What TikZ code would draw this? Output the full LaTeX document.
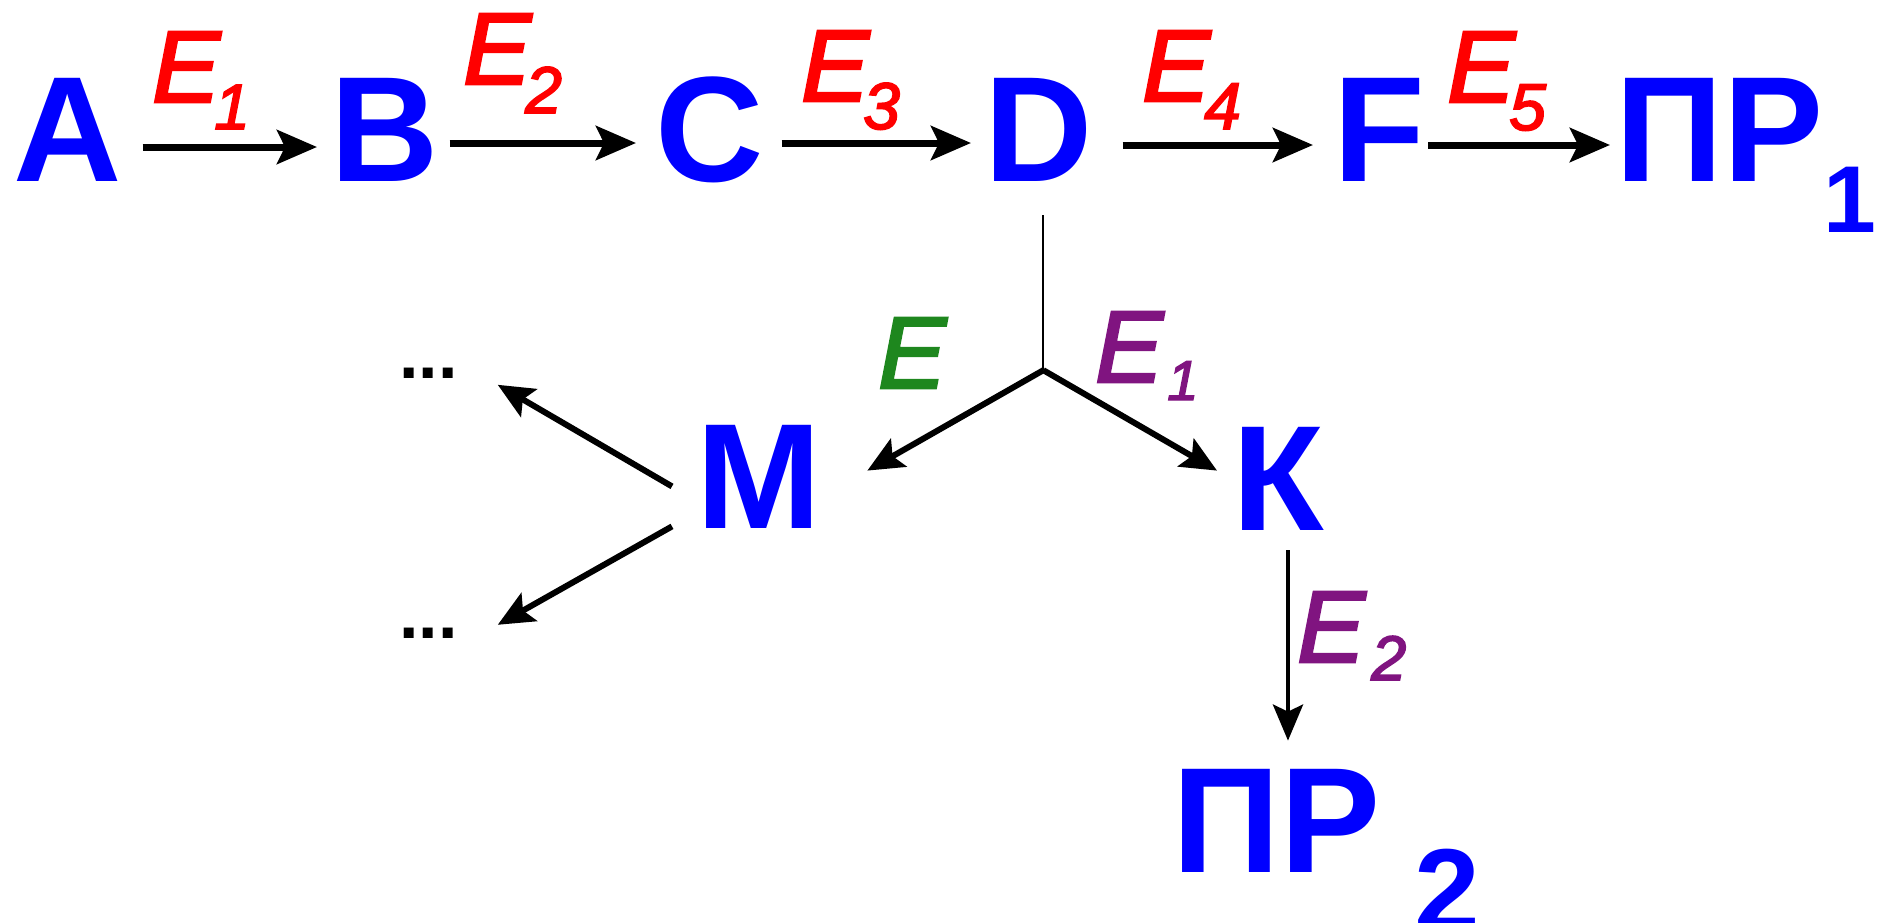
\documentclass[tikz,border=0pt]{standalone}
\usepackage{fontspec}
\setmainfont{Liberation Sans}
\newfontfamily\efont{Liberation Sans Italic}[FakeBold=2.6]
\usetikzlibrary{arrows.meta}
\definecolor{nblue}{RGB}{0,0,255}
\definecolor{ered}{RGB}{255,0,0}
\definecolor{egreen}{RGB}{30,135,30}
\definecolor{epurple}{RGB}{128,20,128}
\begin{document}
\begin{tikzpicture}[x=1pt,y=-1pt,
  big/.style={inner sep=0pt, anchor=base west, text=nblue, font=\bfseries\fontsize{150}{150}\selectfont},
  lbl/.style={inner sep=0pt, anchor=base west, font=\efont\fontsize{102}{102}\selectfont},
  dotsn/.style={inner sep=0pt, anchor=base west, font=\bfseries\fontsize{70}{70}\selectfont},
  arr/.style={line width=7pt, -{Stealth[length=40pt,width=34pt,inset=8pt]}},
  arrb/.style={line width=6pt, -{Stealth[length=36pt,width=32pt,inset=7pt]}},
  arrk/.style={line width=4.5pt, -{Stealth[length=36pt,width=30pt,inset=7pt]}},
  stem/.style={line width=2.2pt}]
\useasboundingbox (0,0) rectangle (1895,922);
% main row
\node[big] (A) at (13,181) {A};
\node[big] (B) at (330,181) {B};
\node[big] (C) at (655,181) {C};
\node[big] (D) at (984,181) {D};
\node[big] (F) at (1333,181) {F};
\node[big] (P1) at (1615,181) {ПР\raisebox{-51pt}{\fontsize{95}{95}\selectfont 1}};
% lower part
\node[big] (M) at (696,528) {М};
\node[big] (K) at (1232,530) {К};
\node[big] (P2) at (1172,872) {ПР\kern34pt\raisebox{-59pt}{\fontsize{118}{118}\selectfont 2}};
\node[dotsn] (d1) at (399,378) {...};
\node[dotsn] (d2) at (399,638) {...};
% labels
\node[lbl,text=ered] (e1) at (152,102) {E\kern-6pt\raisebox{-27pt}{\fontsize{64}{64}\selectfont 1}};
\node[lbl,text=ered] (e2) at (463,84) {E\kern-6pt\raisebox{-29pt}{\fontsize{66}{66}\selectfont 2}};
\node[lbl,text=ered] (e3) at (801,101) {E\kern-6pt\raisebox{-28pt}{\fontsize{66}{66}\selectfont 3}};
\node[lbl,text=ered] (e4) at (1142,101) {E\kern-6pt\raisebox{-28pt}{\fontsize{66}{66}\selectfont 4}};
\node[lbl,text=ered] (e5) at (1447,102) {E\kern-6pt\raisebox{-28pt}{\fontsize{66}{66}\selectfont 5}};
\node[lbl,text=egreen] (eg) at (878,388) {E};
\node[lbl,text=epurple] (ep1) at (1095,382) {E\kern4pt\raisebox{-18pt}{\fontsize{56}{56}\selectfont 1}};
\node[lbl,text=epurple] (ep2) at (1297,662) {E\kern6pt\raisebox{-18pt}{\fontsize{63}{63}\selectfont 2}};
% top arrows
\draw[arr] ([shift={(21,-34)}]A.base east) -- ([shift={(-13,-34)}]B.base west);
\draw[arr] ([shift={(11,-38)}]B.base east) -- ([shift={(-19,-38)}]C.base west);
\draw[arr] ([shift={(18,-38)}]C.base east) -- ([shift={(-13,-38)}]D.base west);
\draw[arr] ([shift={(30,-36)}]D.base east) -- ([shift={(-20,-36)}]F.base west);
\draw[arr] ([shift={(3,-36)}]F.base east) -- ([shift={(-5,-36)}]P1.base west);
% branch
\coordinate (J) at ([shift={(5,189)}]D.south);
\draw[stem] ([shift={(5,34)}]D.south) -- (J);
\draw[arrb] (J) -- ([shift={(46,46)}]M.north east);
\draw[arrb] (J) -- ([shift={(-15,44)}]K.north west);
\draw[arrb] ([shift={(-24,10)}]M.west) -- ([shift={(40,12)}]d1.east);
\draw[arrb] ([shift={(-24,50)}]M.west) -- ([shift={(40,-8)}]d2.east);
\coordinate (kp) at (K.south |- P2.north);
\draw[arrk] ([shift={(10,20)}]K.south) -- ([shift={(10,-28)}]kp);
\end{tikzpicture}
\end{document}
